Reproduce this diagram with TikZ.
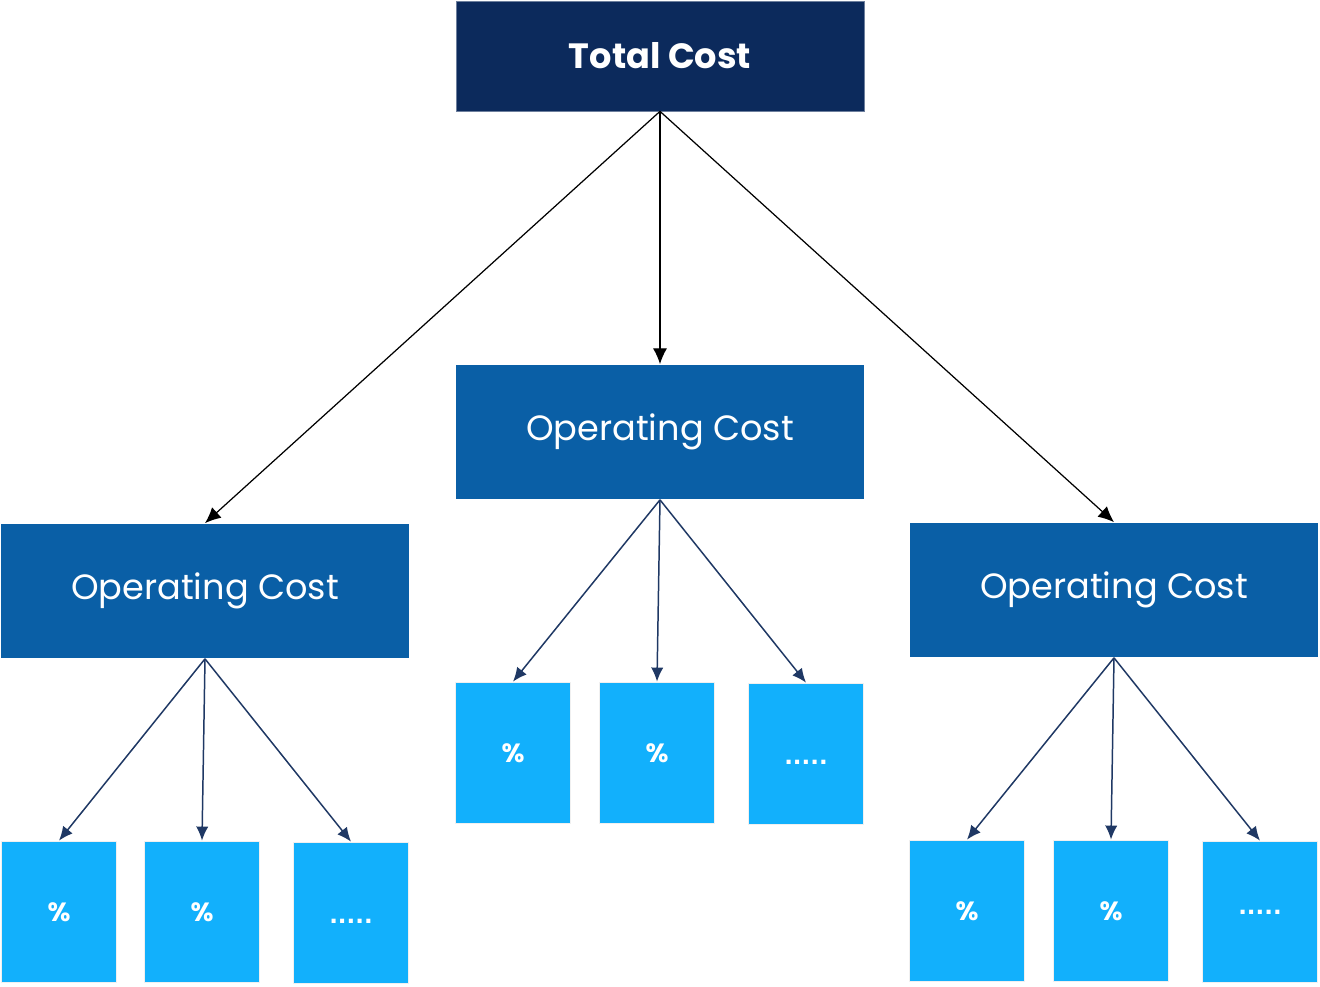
\documentclass[tikz,border=0pt]{standalone}
\usepackage{fontspec}
\setmainfont{Poppins}
\newfontfamily\dotfont{DejaVu Sans}
\usepackage{xcolor}
\usetikzlibrary{arrows.meta}

\definecolor{navy}{HTML}{0C2A5C}
\definecolor{opblue}{HTML}{0A5FA6}
\definecolor{skyblue}{HTML}{12B0FC}
\definecolor{arrownavy}{HTML}{1F3864}

\begin{document}
\begin{tikzpicture}[x=0.02cm, y=-0.02cm,
        top/.style={rectangle, fill=navy, draw=navy!60, text=white,
        minimum width=8.16cm, minimum height=2.2cm, font=\fontsize{20}{24}\selectfont\bfseries},
        op/.style={rectangle, fill=opblue, text=white,
        minimum width=8.16cm, minimum height=2.7cm, font=\fontsize{20}{24}\selectfont},
        leaf/.style={rectangle, fill=skyblue, draw=gray!12, line width=1pt, text=white,
        minimum width=2.3cm, minimum height=2.82cm, font=\fontsize{15}{18}\selectfont\bfseries},
        more/.style={leaf, font=\dotfont\fontsize{13}{16}\selectfont\bfseries,
        text height=12pt, text depth=0pt},
        big/.style={black, line width=0.7pt, -{Latex[length=9pt, width=8pt]}},
        small/.style={arrownavy, line width=0.85pt, -{Latex[length=8pt, width=7pt]}}]
        \useasboundingbox (0,0) rectangle (1320,987);

        \node[top] (T) at (660,56) {Total Cost};
        \node[op] (L) at (205,591) {Operating Cost};
        \node[op] (M) at (660,432) {Operating Cost};
        \node[op] (R) at (1114,590) {Operating Cost};

        \node[leaf] (L1) at (59,912) {\%};
        \node[leaf] (L2) at (202,912) {\%};
        \node[more] (L3) at (351,913) {.....};
        \node[leaf] (M1) at (513,753) {\%};
        \node[leaf] (M2) at (657,753) {\%};
        \node[more] (M3) at (806,754) {.....};
        \node[leaf] (R1) at (967,911) {\%};
        \node[leaf] (R2) at (1111,911) {\%};
        \node[more, text height=3pt] (R3) at (1260,912) {.....};


        \draw[big] (T.south) -- (L.north);
        \draw[big] (T.south) -- (M.north);
        \draw[big] (T.south) -- (R.north);
        \draw[small] (L.south) -- (L1.north);
        \draw[small] (L.south) -- (L2.north);
        \draw[small] (L.south) -- (L3.north);
        \draw[small] (M.south) -- (M1.north);
        \draw[small] (M.south) -- (M2.north);
        \draw[small] (M.south) -- (M3.north);
        \draw[small] (R.south) -- (R1.north);
        \draw[small] (R.south) -- (R2.north);
        \draw[small] (R.south) -- (R3.north);
    \end{tikzpicture}
\end{document}
